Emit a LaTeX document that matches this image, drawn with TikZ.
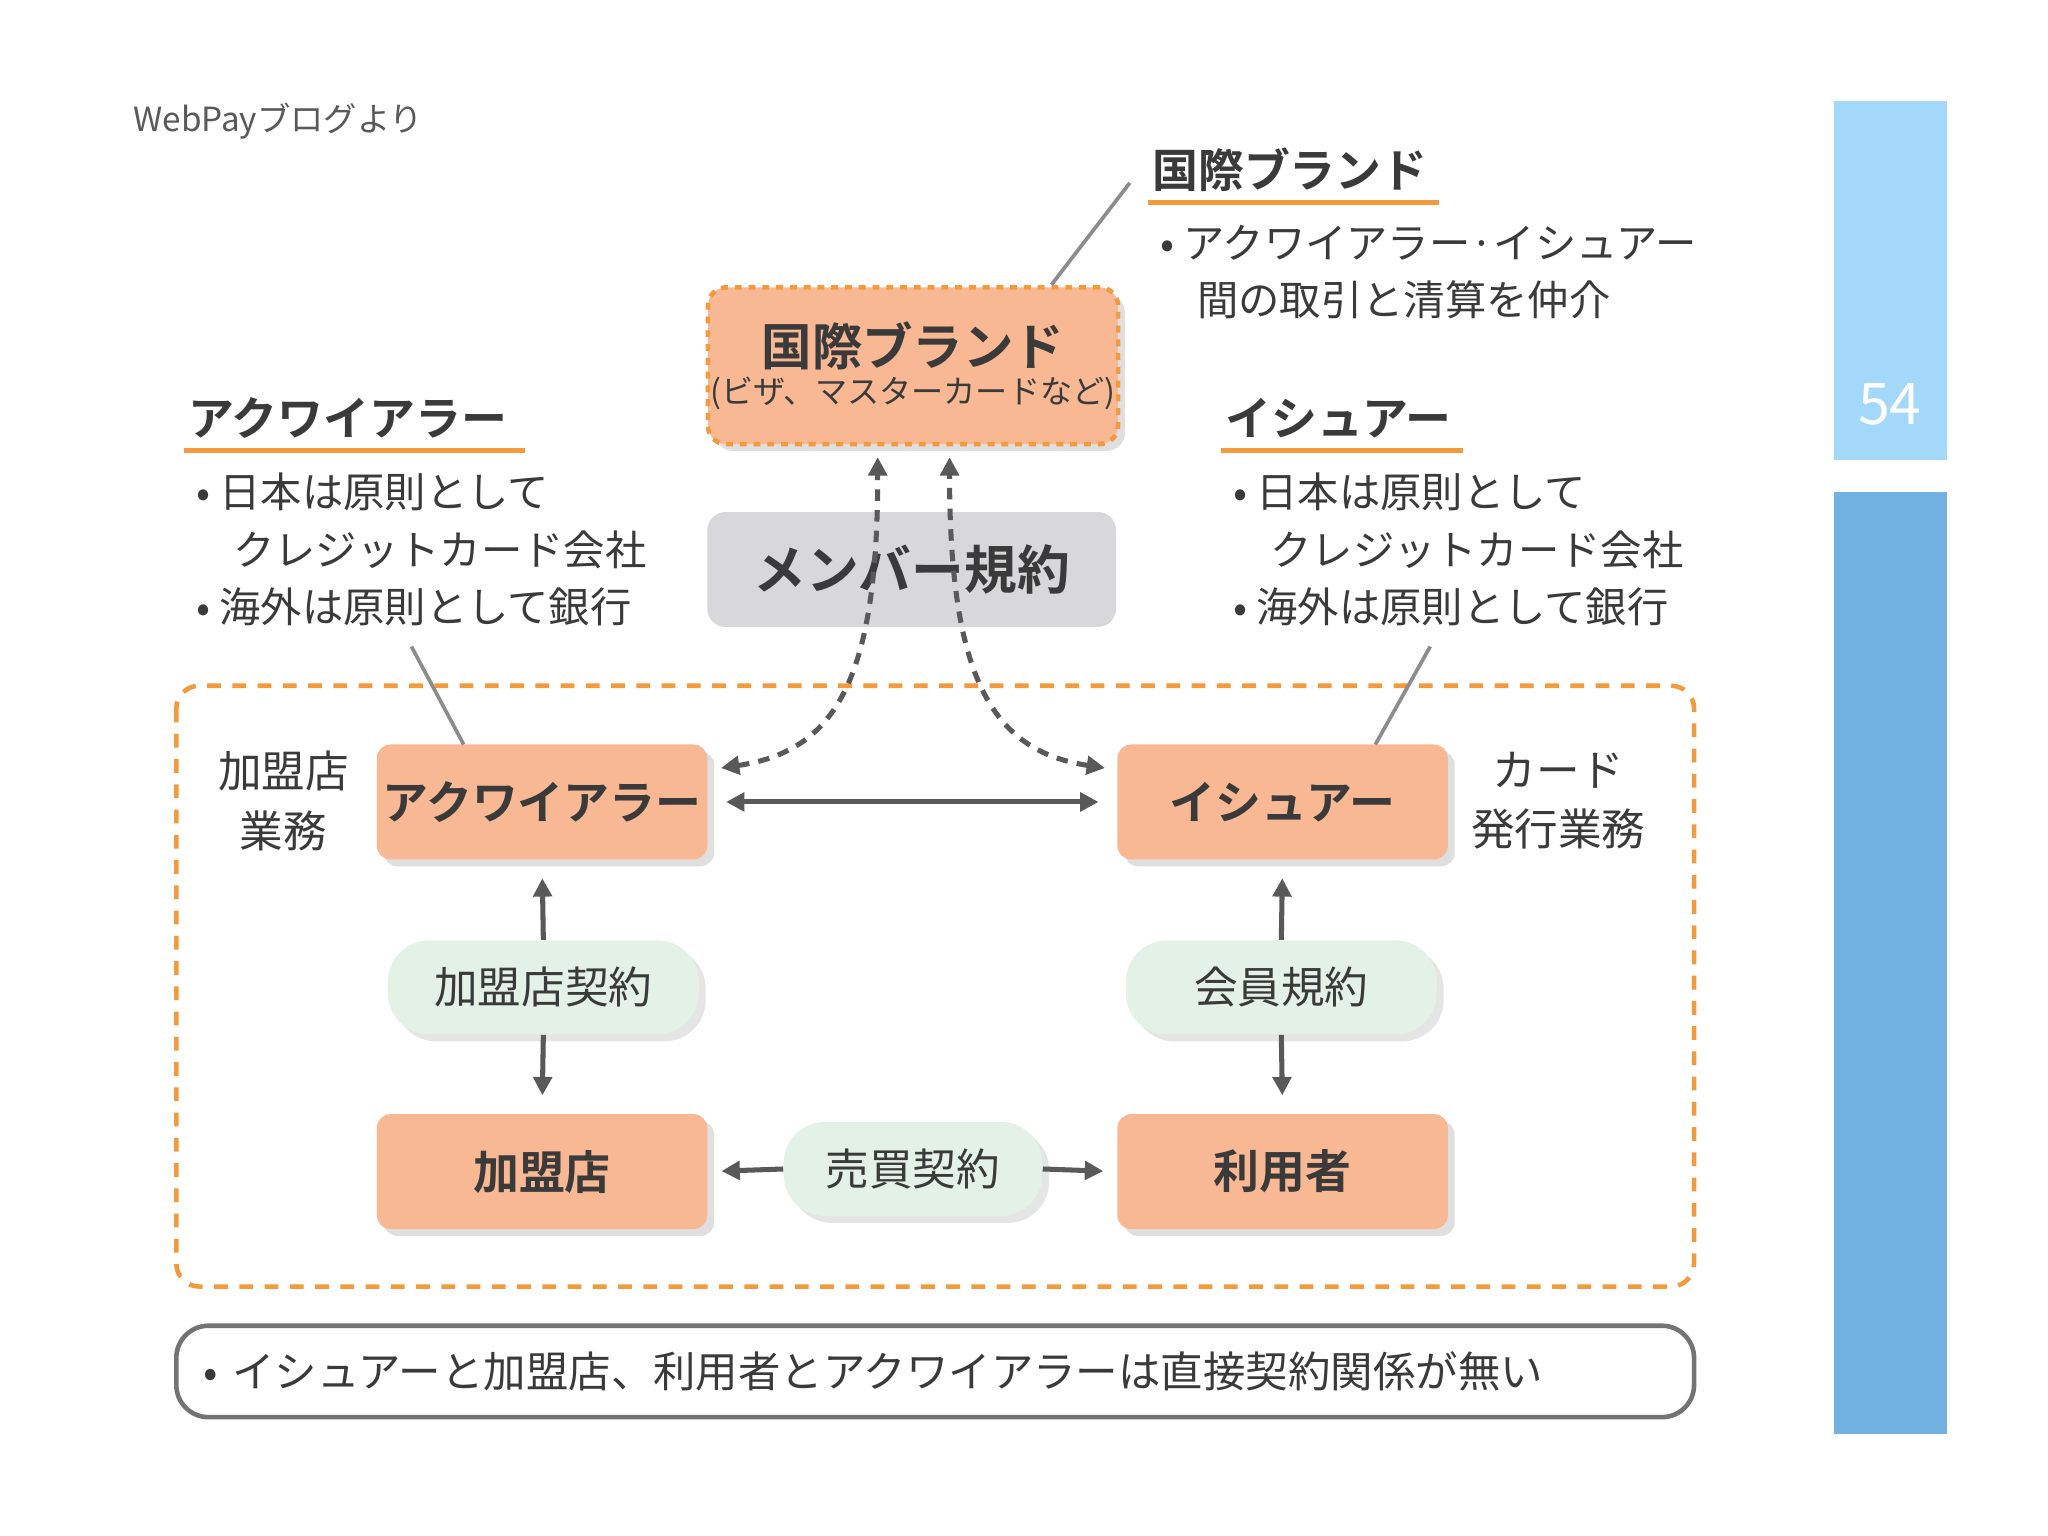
\documentclass[tikz,border=0pt]{standalone}
\usepackage{fontspec}
\setmainfont{Noto Sans CJK JP}
\newfontfamily\jpb{Noto Sans CJK JP Bold}
\usetikzlibrary{arrows.meta,shadows,calc}
\definecolor{org}{HTML}{F8B894}
\definecolor{orgline}{HTML}{F39A3C}
\definecolor{pill}{HTML}{E3F1E6}
\definecolor{grayb}{HTML}{D8D8DA}
\definecolor{txt}{HTML}{3A3A3A}
\definecolor{lb}{HTML}{A3D8FB}
\definecolor{db}{HTML}{72B2E3}
\tikzset{
 box/.style={fill=org,rounded corners=6pt,inner sep=0pt,minimum width=253*0.02cm,minimum height=88*0.02cm,font=\jpb\fontsize{20}{24}\selectfont,text=txt,drop shadow={opacity=0.25,shadow xshift=3pt,shadow yshift=-3pt}},
 pillb/.style={fill=pill,rounded corners=18pt,minimum height=72*0.02cm,font=\fontsize{19}{22}\selectfont,text=txt,drop shadow={opacity=0.2,shadow xshift=3pt,shadow yshift=-3pt}},
 arr/.style={-{Triangle[length=8pt,width=8pt]},line width=2.2pt,draw=black!65},
 barr/.style={{Triangle[length=8pt,width=8pt]}-{Triangle[length=8pt,width=8pt]},line width=2.2pt,draw=black!65},
 darr/.style={barr,dashed,dash pattern=on 5pt off 4pt},
 head/.style={font=\jpb\fontsize{20}{24}\selectfont,text=txt,anchor=west},
 bul/.style={font=\fontsize{18}{25}\selectfont,text=txt,anchor=north west,align=left},
 uline/.style={orgline,line width=2pt},
 lead/.style={black!45,line width=1.6pt}
}
\begin{document}
\begin{tikzpicture}[x=0.02cm,y=-0.02cm]
\useasboundingbox (0,0) rectangle (1568,1176);
\fill[white] (0,0) rectangle (1568,1176);
\node[anchor=west,text=black!65,font=\fontsize{14.5}{16}\selectfont] (src) at (96,93) {WebPayブログより};
\fill[lb] (1404,77) rectangle (1491,352);
\fill[db] (1404,377) rectangle (1491,1098);
\node[text=white,font=\fontsize{25}{28}\selectfont] (pg) at (1447,310) {54};
% big dashed region
\draw[orgline,line width=2pt,dashed,dash pattern=on 6pt off 5pt,rounded corners=10pt] (135,525) rectangle (1297,985);
% brand box
\node[fill=org,draw=orgline,dashed,line width=2pt,rounded corners=8pt,inner sep=0pt,minimum width=314*0.02cm,minimum height=120*0.02cm,align=center,text=txt,drop shadow={opacity=0.25,shadow xshift=3pt,shadow yshift=-3pt}] (brand) at (699,280)
 {{\jpb\fontsize{22}{26}\selectfont 国際ブランド}\\[2pt]{\fontsize{14}{18}\selectfont (ビザ、マスターカードなど)}};
\node[fill=grayb,rounded corners=8pt,minimum width=313*0.02cm,minimum height=88*0.02cm,font=\jpb\fontsize{23}{26}\selectfont,text=txt] (member) at (698,436) {メンバー規約};
% main boxes
\node[box] (acq) at (415,614) {アクワイアラー};
\node[box] (iss) at (982,614) {イシュアー};
\node[box] (shop) at (415,897) {加盟店};
\node[box] (user) at (982,897) {利用者};
\node[pillb,minimum width=238*0.02cm] (kc) at (416,756) {加盟店契約};
\node[pillb,minimum width=238*0.02cm] (mk) at (981,756) {会員規約};
\node[pillb,minimum width=198*0.02cm] (bb) at (699,895) {売買契約};
% arrows
\draw[barr,shorten <=8pt,shorten >=8pt] (acq.east) -- (iss.west);
\draw[arr,shorten >=8pt] (kc.north) -- (acq.south);
\draw[arr,shorten >=8pt] (kc.south) -- (shop.north);
\draw[arr,shorten >=8pt] (mk.north) -- (iss.south);
\draw[arr,shorten >=8pt] (mk.south) -- (user.north);
\draw[arr,shorten >=6pt] (bb.west) -- (shop.east);
\draw[arr,shorten >=6pt] (bb.east) -- (user.west);
\coordinate (d1) at (552,588); \coordinate (d2) at (846,588);
\coordinate (u1) at (672,350); \coordinate (u2) at (727,350);
\draw[darr] (d1) .. controls (640,575) and (672,520) .. (u1);
\draw[darr] (d2) .. controls (760,575) and (727,520) .. (u2);
% side labels
\node[align=center,text=txt,font=\fontsize{19}{26}\selectfont] (l1) at (217,613) {加盟店\\業務};
\node[align=center,text=txt,font=\fontsize{19}{26}\selectfont] (l2) at (1193,613) {カード\\発行業務};
% brand description
\node[head] (h1) at (876,130) {国際ブランド};
\draw[uline] (879,155) -- (1102,155);
\node[bul] (b1) at (882,166) {• アクワイアラー·イシュアー\\\hspace*{0.9em}間の取引と清算を仲介};
\draw[lead] (805,218) -- (865,140);
% acquirer description
\node[head] (h2) at (138,320) {アクワイアラー};
\draw[uline] (141,345) -- (402,345);
\node[bul] (b2) at (144,356) {• 日本は原則として\\\hspace*{0.9em}クレジットカード会社\\• 海外は原則として銀行};
\draw[lead] (315,495) -- (355,570);
% issuer description
\node[head] (h3) at (932,320) {イシュアー};
\draw[uline] (935,345) -- (1120,345);
\node[bul] (b3) at (938,356) {• 日本は原則として\\\hspace*{0.9em}クレジットカード会社\\• 海外は原則として銀行};
\draw[lead] (1095,495) -- (1053,570);
% bottom note
\node[draw=black!55,line width=2pt,rounded corners=14pt,minimum width=1162*0.02cm,minimum height=70*0.02cm,text=txt,font=\fontsize{18.5}{20}\selectfont,text width=1120*0.02cm,align=left] (note) at (716,1050) {• イシュアーと加盟店、利用者とアクワイアラーは直接契約関係が無い};
\end{tikzpicture}
\end{document}
